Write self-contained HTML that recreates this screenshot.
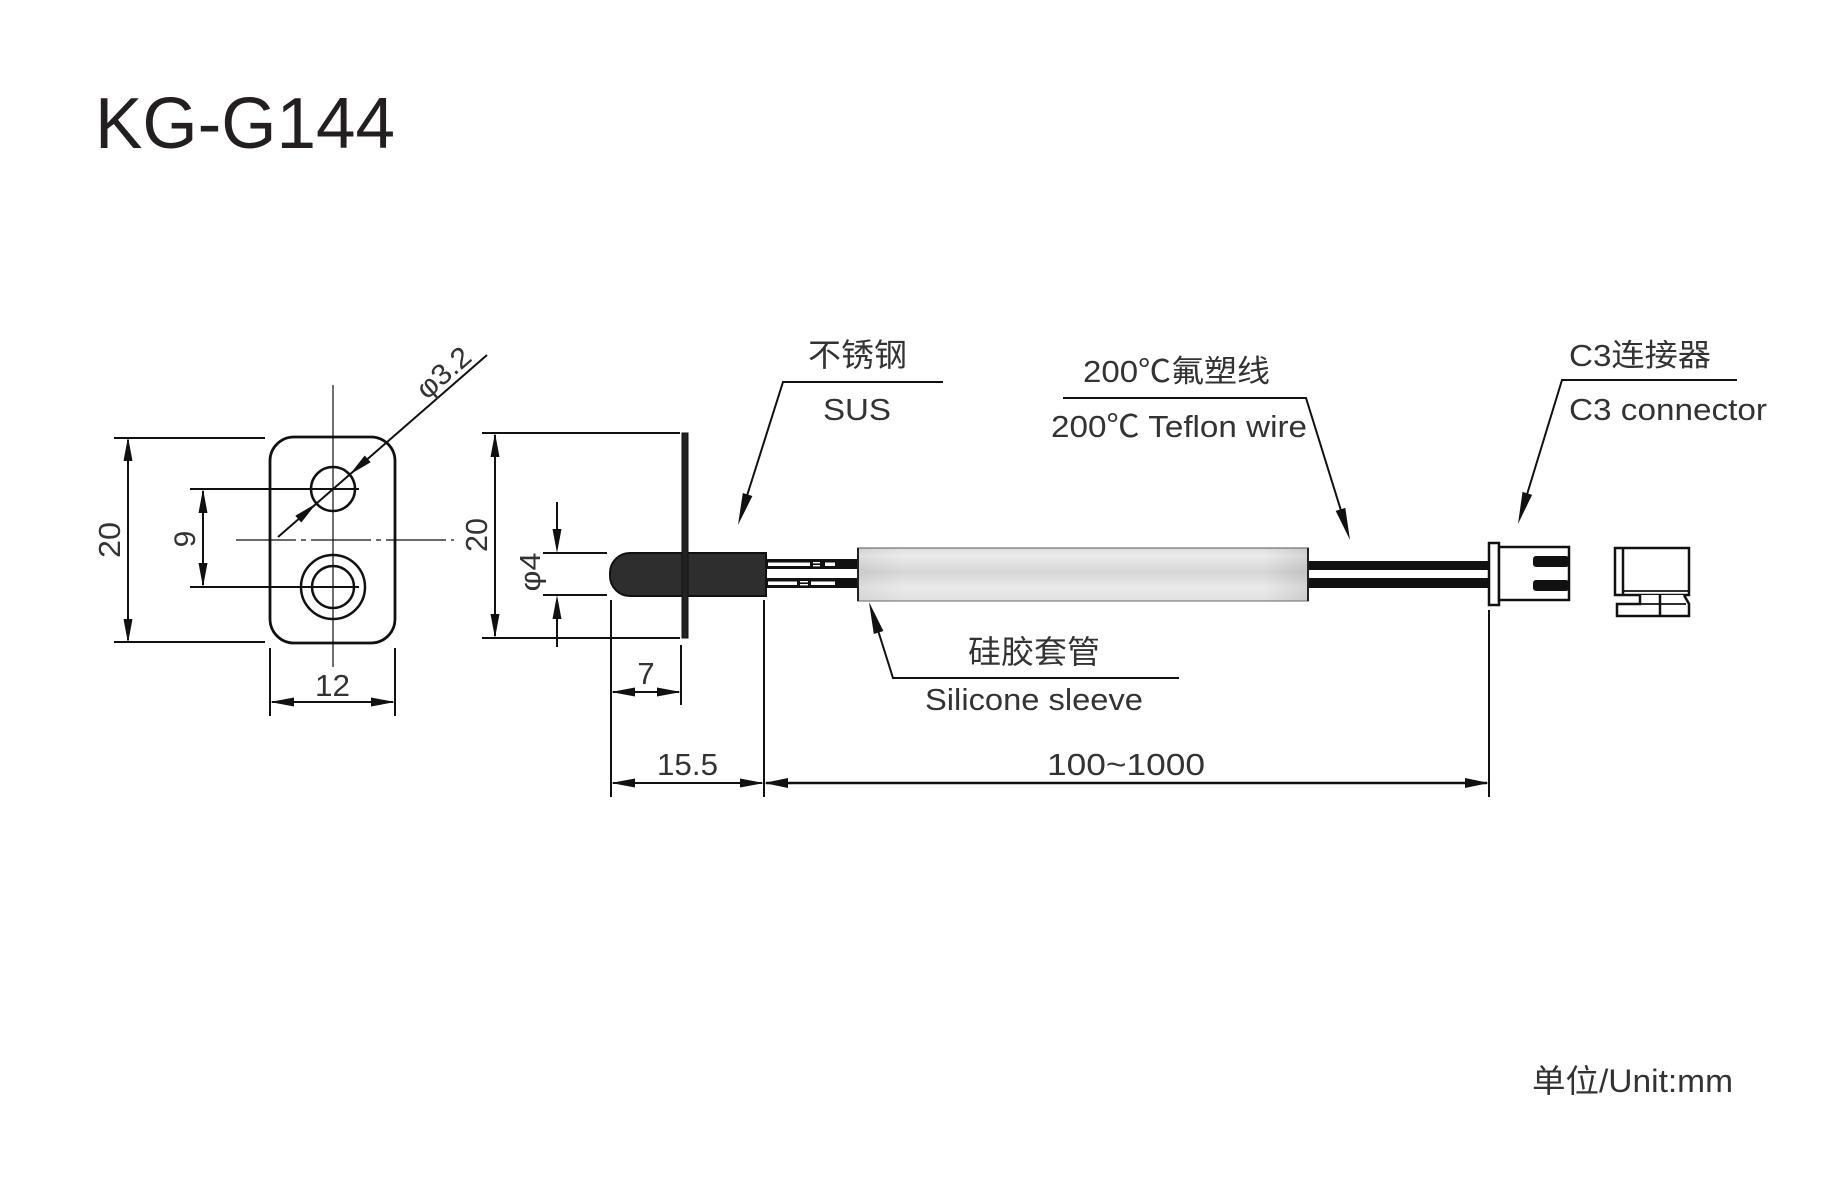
<!DOCTYPE html>
<html>
<head>
<meta charset="utf-8">
<style>
  html,body{margin:0;padding:0;background:#fff;}
  svg{display:block;}
  text{font-family:"Liberation Sans","Noto Sans CJK SC",sans-serif;fill:#333;}
</style>
</head>
<body>
<svg width="1830" height="1193" viewBox="0 0 1830 1193" xmlns="http://www.w3.org/2000/svg">
  <defs>
    <linearGradient id="slv" x1="0" y1="0" x2="0" y2="1">
      <stop offset="0" stop-color="#dedede"/>
      <stop offset="0.15" stop-color="#ebebeb"/>
      <stop offset="0.45" stop-color="#d6d6d6"/>
      <stop offset="0.75" stop-color="#eaeaea"/>
      <stop offset="1" stop-color="#e0e0e0"/>
    </linearGradient>
    <linearGradient id="slvh" x1="0" y1="0" x2="1" y2="0">
      <stop offset="0" stop-color="#000" stop-opacity="0.06"/>
      <stop offset="0.1" stop-color="#000" stop-opacity="0"/>
      <stop offset="0.9" stop-color="#000" stop-opacity="0"/>
      <stop offset="1" stop-color="#000" stop-opacity="0.1"/>
    </linearGradient>
  </defs>

  <!-- Title -->
  <text x="95" y="148" font-size="72" textLength="300" lengthAdjust="spacingAndGlyphs" style="fill:#231f20">KG-G144</text>

  <!-- ============ LEFT VIEW ============ -->
  <g stroke="#111" fill="none">
    <rect x="270" y="437" width="125" height="206" rx="24" ry="24" stroke-width="2.8"/>
    <circle cx="333" cy="489" r="22" stroke-width="2.5"/>
    <circle cx="333" cy="587" r="32" stroke-width="2.5"/>
    <circle cx="333" cy="587" r="21" stroke-width="2.5"/>
    <line x1="333" y1="385" x2="333" y2="667" stroke-width="1.2"/>
    <line x1="236" y1="540" x2="454" y2="540" stroke-width="1.2" stroke-dasharray="60 5 5 5"/>
    <line x1="114" y1="438" x2="265" y2="438" stroke-width="2"/>
    <line x1="114" y1="642" x2="265" y2="642" stroke-width="2"/>
    <line x1="128" y1="440" x2="128" y2="640" stroke-width="2"/>
    <line x1="190" y1="489" x2="359" y2="489" stroke-width="2"/>
    <line x1="190" y1="587" x2="359" y2="587" stroke-width="2"/>
    <line x1="203" y1="491" x2="203" y2="585" stroke-width="2"/>
    <line x1="270" y1="648" x2="270" y2="716" stroke-width="2"/>
    <line x1="395" y1="648" x2="395" y2="716" stroke-width="2"/>
    <line x1="272" y1="702" x2="393" y2="702" stroke-width="2"/>
    <line x1="278" y1="537" x2="487" y2="355" stroke-width="2"/>
  </g>
  <g fill="#111">
    <polygon points="128,437 123.5,461 132.5,461"/>
    <polygon points="128,643 123.5,619 132.5,619"/>
    <polygon points="203,489 198.5,513 207.5,513"/>
    <polygon points="203,587 198.5,563 207.5,563"/>
    <polygon points="270,702 294,697.5 294,706.5"/>
    <polygon points="395,702 371,697.5 371,706.5"/>
    <polygon points="349.6,474.6 370.7,462.3 364.7,455.5"/>
    <polygon points="316.4,503.4 301.3,522.5 295.3,515.7"/>
  </g>
  <text transform="translate(120,540) rotate(-90)" font-size="31" text-anchor="middle" textLength="36" lengthAdjust="spacingAndGlyphs">20</text>
  <text transform="translate(195,539) rotate(-90)" font-size="30" text-anchor="middle">9</text>
  <text x="315" y="696" font-size="31" textLength="35" lengthAdjust="spacingAndGlyphs">12</text>
  <text transform="translate(450,380) rotate(-41)" font-size="29" text-anchor="middle" textLength="62" lengthAdjust="spacingAndGlyphs">φ3.2</text>

  <!-- ============ SIDE VIEW ============ -->
  <g stroke="#111" fill="none" stroke-width="2">
    <line x1="482" y1="433" x2="680" y2="433"/>
    <line x1="482" y1="638" x2="680" y2="638"/>
    <line x1="495" y1="435" x2="495" y2="636"/>
    <line x1="543" y1="553" x2="607" y2="553"/>
    <line x1="543" y1="595" x2="607" y2="595"/>
    <line x1="557" y1="502" x2="557" y2="540"/>
    <line x1="557" y1="608" x2="557" y2="647"/>
    <line x1="611" y1="600" x2="611" y2="797"/>
    <line x1="764" y1="600" x2="764" y2="797"/>
    <line x1="681" y1="645" x2="681" y2="705"/>
    <line x1="1489" y1="610" x2="1489" y2="797"/>
    <line x1="613" y1="692" x2="679" y2="692"/>
    <line x1="613" y1="783" x2="762" y2="783"/>
    <line x1="766" y1="783" x2="1487" y2="783" stroke-width="2.5"/>
  </g>
  <g fill="#111">
    <polygon points="495,433 490.5,457 499.5,457"/>
    <polygon points="495,638 490.5,614 499.5,614"/>
    <polygon points="557,553 552.5,529 561.5,529"/>
    <polygon points="557,595 552.5,619 561.5,619"/>
    <polygon points="611,692 635,687.5 635,696.5"/>
    <polygon points="681,692 657,687.5 657,696.5"/>
    <polygon points="611,783 635,778.5 635,787.5"/>
    <polygon points="764,783 740,778.5 740,787.5"/>
    <polygon points="764,783 788,778 788,788"/>
    <polygon points="1489,783 1465,778 1465,788"/>
  </g>
  <text transform="translate(487,535) rotate(-90)" font-size="31" text-anchor="middle" textLength="34" lengthAdjust="spacingAndGlyphs">20</text>
  <text transform="translate(540,572) rotate(-90)" font-size="29" text-anchor="middle" textLength="39" lengthAdjust="spacingAndGlyphs">φ4</text>
  <text x="646" y="684" font-size="31" text-anchor="middle">7</text>
  <text x="657" y="775" font-size="31" textLength="61" lengthAdjust="spacingAndGlyphs">15.5</text>
  <text x="1047" y="775" font-size="31" textLength="158" lengthAdjust="spacingAndGlyphs">100~1000</text>

  <!-- probe body -->
  <path d="M630,553 H766 V596 H630 A20,20 0 0 1 610,576 V573 A20,20 0 0 1 630,553 Z" fill="#2e2e2e" stroke="#111" stroke-width="2"/>
  <rect x="682" y="433" width="6" height="205" fill="#222" stroke="#111" stroke-width="1"/>

  <!-- wires between body and sleeve -->
  <rect x="766" y="559" width="93" height="10" fill="#111"/>
  <rect x="766" y="578" width="93" height="10" fill="#111"/>
  <g fill="#fff">
    <rect x="768" y="562.5" width="42" height="3.5"/>
    <rect x="813" y="562" width="7" height="1.4"/>
    <rect x="813" y="565" width="7" height="1.4"/>
    <rect x="825" y="562.5" width="10" height="3.5"/>
    <rect x="768" y="581.5" width="29" height="3.5"/>
    <rect x="800" y="581" width="8" height="1.4"/>
    <rect x="800" y="584" width="8" height="1.4"/>
    <rect x="811" y="581.5" width="24" height="3.5"/>
  </g>

  <!-- silicone sleeve -->
  <rect x="857" y="548" width="452" height="53" fill="url(#slv)"/>
  <rect x="857" y="548" width="452" height="53" fill="url(#slvh)"/>
  <line x1="857" y1="548" x2="1309" y2="548" stroke="#555" stroke-width="1"/>
  <line x1="857" y1="601" x2="1309" y2="601" stroke="#666" stroke-width="1"/>
  <line x1="858" y1="548" x2="858" y2="601" stroke="#222" stroke-width="2"/>
  <line x1="1308" y1="548" x2="1308" y2="601" stroke="#222" stroke-width="2"/>

  <!-- teflon wires -->
  <rect x="1309" y="561" width="181" height="9" fill="#111"/>
  <rect x="1309" y="578" width="181" height="10" fill="#111"/>

  <!-- male connector -->
  <rect x="1489" y="543" width="10" height="62" fill="#fff" stroke="#111" stroke-width="2.5"/>
  <rect x="1499" y="547" width="70" height="53" fill="#fff" stroke="#111" stroke-width="2.5"/>
  <rect x="1533" y="556" width="36" height="11" rx="3" fill="#111"/>
  <rect x="1533" y="580" width="36" height="11" rx="3" fill="#111"/>

  <!-- female connector -->
  <g stroke="#111" stroke-width="2.5" fill="none">
    <rect x="1615" y="548" width="74" height="47" fill="#fff"/>
    <line x1="1623" y1="548" x2="1623" y2="595"/>
    <line x1="1623" y1="591" x2="1689" y2="591" stroke-width="1.8"/>
    <polyline points="1640,595 1640,604 1617,604 1617,616 1689,616 1689,604 1684,595" fill="#fff"/>
    <line x1="1660" y1="595" x2="1660" y2="616"/>
    <line x1="1640" y1="604" x2="1686" y2="604" stroke-width="1.8"/>
  </g>

  <!-- leaders -->
  <g stroke="#111" stroke-width="2" fill="none">
    <polyline points="943,382 783,382 745,502"/>
    <polyline points="1063,398 1306,398 1343,517"/>
    <polyline points="1737,380 1562,380 1525,501"/>
    <polyline points="1179,678 893,678 876,624"/>
  </g>
  <g fill="#111">
    <polygon points="738,525 752.4,496 742.8,493"/>
    <polygon points="1350,540 1345.3,507.9 1335.7,510.9"/>
    <polygon points="1518,524 1532.1,494.9 1522.5,491.9"/>
    <polygon points="869,602 883.4,631 873.8,634"/>
  </g>

  <!-- labels -->
  <text x="808" y="366" font-size="32" textLength="99" lengthAdjust="spacingAndGlyphs">不锈钢</text>
  <text x="823" y="420" font-size="31" textLength="68" lengthAdjust="spacingAndGlyphs">SUS</text>
  <text x="1083" y="382" font-size="31" textLength="187" lengthAdjust="spacingAndGlyphs">200℃氟塑线</text>
  <text x="1051" y="437" font-size="31" textLength="256" lengthAdjust="spacingAndGlyphs">200℃ Teflon wire</text>
  <text x="1569" y="366" font-size="31" textLength="142" lengthAdjust="spacingAndGlyphs">C3连接器</text>
  <text x="1569" y="420" font-size="31" textLength="198" lengthAdjust="spacingAndGlyphs">C3 connector</text>
  <text x="968" y="663" font-size="32" textLength="132" lengthAdjust="spacingAndGlyphs">硅胶套管</text>
  <text x="925" y="710" font-size="31" textLength="218" lengthAdjust="spacingAndGlyphs">Silicone sleeve</text>

  <text x="1532" y="1092" font-size="32" textLength="201" lengthAdjust="spacingAndGlyphs">单位/Unit:mm</text>
</svg>
</body>
</html>
